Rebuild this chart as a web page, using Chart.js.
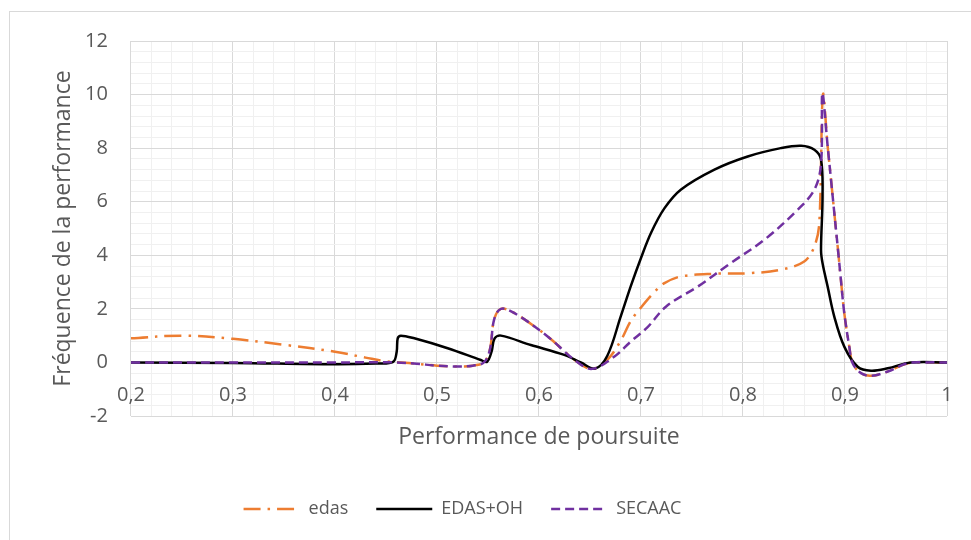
<!DOCTYPE html>
<html lang="fr">
<head>
    <meta charset="UTF-8">
    <title>Fréquence de la performance</title>
    <script src="https://cdn.jsdelivr.net/npm/chart.js@4/dist/chart.umd.min.js"></script>
    <style>
        body { margin: 0; background: #fff; overflow: hidden; }
        #wrap { position: relative; width: 971px; height: 540px; }
        #frame { position: absolute; left: 9px; top: 11px; width: 1000px; height: 600px; border: 1px solid #d9d9d9; }
        #chart { position: absolute; left: 0; top: 0; }
    </style>
</head>
<body>
<div id="wrap">
    <div id="frame"></div>
    <canvas id="chart" width="971" height="540"></canvas>
</div>
<script>
    // axes
    const xTicks = [0.2, 0.3, 0.4, 0.5, 0.6, 0.7, 0.8, 0.9, 1];
    const yTicks = [-2, 0, 2, 4, 6, 8, 10, 12];
    const minorSplits = 5;

    // series as [x, y]
    const edas = [
        [0.2, 0.9], [0.25, 1.0], [0.3, 0.88], [0.35, 0.66], [0.4, 0.4], [0.43, 0.18], [0.45, 0.04], [0.465, 0],
        [0.48, -0.05], [0.5, -0.12], [0.52, -0.15], [0.535, -0.12], [0.546, 0], [0.552, 0.5], [0.556, 1.6],
        [0.5627, 2.0], [0.576, 1.84], [0.6085, 0.97], [0.635, 0.09], [0.652, -0.24], [0.667, 0.1],
        [0.68, 0.8], [0.69, 1.55], [0.7, 2.05], [0.713, 2.62], [0.723, 2.96], [0.739, 3.21], [0.772, 3.31],
        [0.805, 3.33], [0.837, 3.46], [0.86, 3.77], [0.87, 4.33], [0.8748, 5.2], [0.8784, 10.0], [0.883, 8.07],
        [0.8863, 6.82], [0.8895, 5.59], [0.8928, 4.33], [0.896, 3.08], [0.8993, 1.84], [0.9042, 0.59],
        [0.9075, -0.03], [0.9157, -0.4], [0.9255, -0.5], [0.942, -0.34], [0.9615, -0.03], [0.98, 0], [1.0, 0]
    ];
    const edasOh = [
        [0.2, 0], [0.3, -0.02], [0.4, -0.07], [0.44, -0.04], [0.457, 0.02], [0.4605, 0.4], [0.4615, 0.9],
        [0.4647, 1.0], [0.4778, 0.9], [0.5105, 0.53], [0.543, 0.09], [0.549, 0.02], [0.5535, 0.4], [0.5565, 0.9],
        [0.5627, 1.0], [0.592, 0.65], [0.6248, 0.28], [0.641, 0], [0.655, -0.23], [0.667, 0.25], [0.68, 1.7],
        [0.69, 2.85], [0.7, 3.9], [0.71, 4.85], [0.7229, 5.75], [0.739, 6.45], [0.772, 7.2], [0.8046, 7.69],
        [0.837, 8.0], [0.857, 8.09], [0.87, 7.94], [0.8765, 7.57], [0.878, 6.2], [0.8765, 4.2], [0.878, 3.7],
        [0.883, 2.83], [0.8895, 1.71], [0.8993, 0.59], [0.9124, -0.16], [0.9255, -0.31], [0.942, -0.22],
        [0.9647, 0], [1.0, 0]
    ];
    const secaac = [
        [0.2, 0], [0.3, 0], [0.4, 0], [0.46, 0], [0.48, -0.05], [0.5, -0.12], [0.52, -0.15], [0.535, -0.12],
        [0.546, 0], [0.552, 0.5], [0.556, 1.6], [0.5627, 2.0], [0.576, 1.84], [0.6085, 0.97], [0.635, 0.09],
        [0.652, -0.24], [0.674, 0.22], [0.69, 0.78], [0.706, 1.3], [0.725, 2.1], [0.7556, 2.83], [0.788, 3.71],
        [0.821, 4.58], [0.8536, 5.7], [0.87, 6.45], [0.8765, 7.4], [0.8778, 10.05], [0.883, 8.07], [0.8863, 6.82],
        [0.8895, 5.59], [0.8928, 4.33], [0.896, 3.08], [0.8993, 1.84], [0.9042, 0.59], [0.9075, -0.03],
        [0.9157, -0.4], [0.9255, -0.5], [0.942, -0.34], [0.9615, -0.03], [0.98, 0], [1.0, 0]
    ];

    const text = '#595959';
    Chart.defaults.font.family = "'Open Sans', sans-serif";

    function isMajor(list, v) {
        return list.some(m => Math.abs(m - v) < 1e-9);
    }
    function withMinors(list) {
        const out = [];
        for (let i = 0; i < list.length; i++) {
            out.push({ value: list[i] });
            if (i < list.length - 1) {
                for (let k = 1; k < minorSplits; k++) {
                    out.push({ value: list[i] + (list[i + 1] - list[i]) * k / minorSplits });
                }
            }
        }
        return out;
    }
    function frNum(v) {
        return String(Math.round(v * 10) / 10).replace('.', ',');
    }
    const toPts = arr => arr.map(p => ({ x: p[0], y: p[1] }));

    // legend samples keep the dash pattern of their line
    function legendItems(chart) {
        return Chart.defaults.plugins.legend.labels.generateLabels(chart).map(item => {
            const ds = chart.data.datasets[item.datasetIndex];
            item.lineDash = ds.borderDash || [];
            item.lineWidth = ds.borderWidth;
            item.strokeStyle = ds.borderColor;
            return item;
        });
    }

    new Chart(document.getElementById('chart'), {
        type: 'line',
        data: {
            datasets: [
                { label: 'edas', data: toPts(edas), borderColor: '#ED7D31', borderWidth: 2.5,
                  borderDash: [17, 7, 2.5, 7], order: 2 },
                { label: 'EDAS+OH', data: toPts(edasOh), borderColor: '#000000', borderWidth: 2.5, order: 1 },
                { label: 'SECAAC', data: toPts(secaac), borderColor: '#7030A0', borderWidth: 2.5,
                  borderDash: [9, 5], order: 0 }
            ]
        },
        options: {
            responsive: false,
            animation: false,
            layout: { padding: { top: 41, right: 24, bottom: 12, left: -22 } },
            elements: { point: { radius: 0 }, line: { tension: 0.35, fill: false } },
            plugins: {
                tooltip: { enabled: false },
                legend: {
                    position: 'bottom',
                    labels: {
                        usePointStyle: true, pointStyle: 'line', pointStyleWidth: 56,
                        color: text, font: { size: 18 }, padding: 28,
                        generateLabels: legendItems,
                        sort: (a, b) => a.datasetIndex - b.datasetIndex
                    }
                }
            },
            scales: {
                x: {
                    type: 'linear', min: 0.2, max: 1,
                    afterBuildTicks: s => { s.ticks = withMinors(xTicks); },
                    grid: { color: c => isMajor(xTicks, c.tick.value) ? '#d9d9d9' : '#f0f0f0', drawTicks: false },
                    border: { display: false },
                    ticks: {
                        autoSkip: false, maxRotation: 0, mirror: true, color: text, font: { size: 20 }, padding: 9,
                        callback: v => isMajor(xTicks, v) ? frNum(v) : ''
                    },
                    title: { display: true, text: 'Performance de poursuite', color: text, font: { size: 23 },
                             padding: { top: -10.8, bottom: 21.2 } }
                },
                y: {
                    type: 'linear', min: -2, max: 12,
                    afterBuildTicks: s => { s.ticks = withMinors(yTicks); },
                    grid: { color: c => isMajor(yTicks, c.tick.value) ? '#d9d9d9' : '#f0f0f0', drawTicks: false },
                    border: { display: false },
                    ticks: {
                        autoSkip: false, color: text, font: { size: 20 }, padding: 23,
                        callback: v => isMajor(yTicks, v) ? frNum(v) : ''
                    },
                    title: { display: true, text: 'Fréquence de la performance', color: text, font: { size: 23 },
                             padding: { top: 71.2, bottom: -14.7 } }
                }
            }
        }
    });
</script>
</body>
</html>
